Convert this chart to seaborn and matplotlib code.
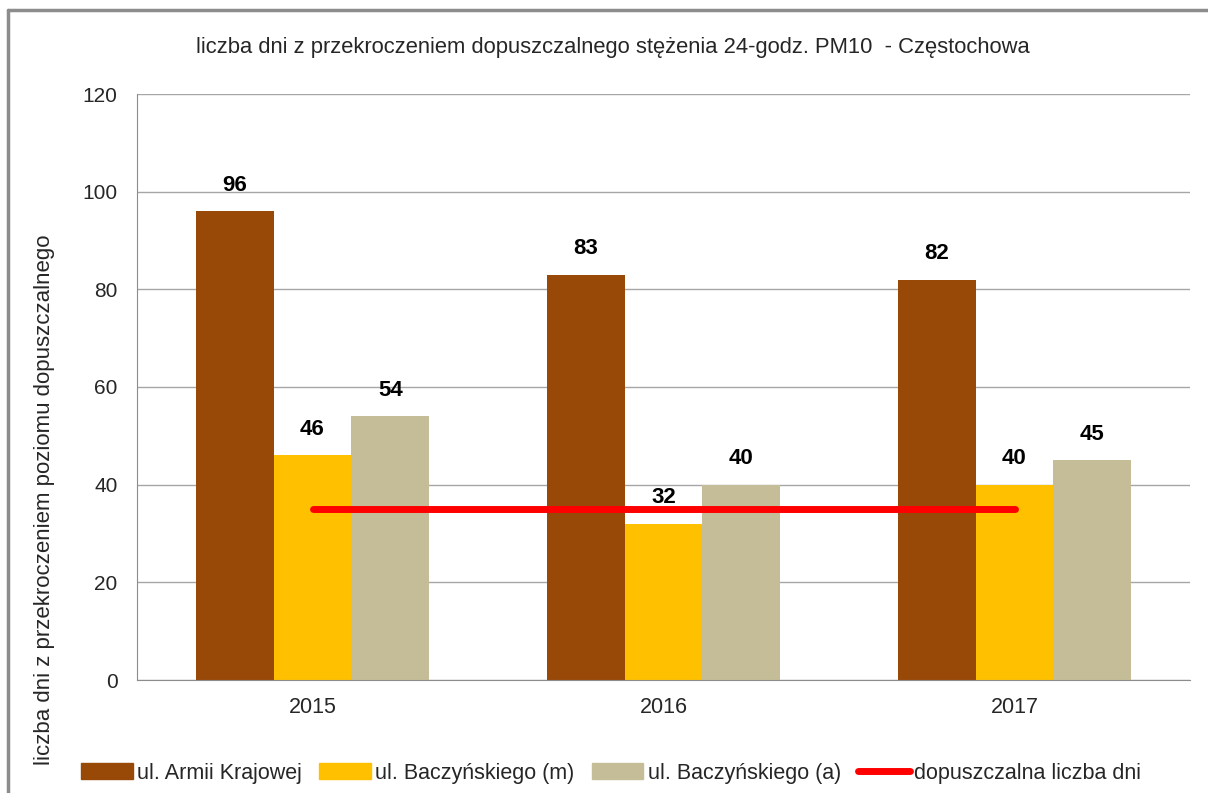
import pandas as pd
import matplotlib.pyplot as plt
import seaborn as sns
from matplotlib.lines import Line2D
from matplotlib.patches import Patch

years = ['2015', '2016', '2017']
stations = ['ul. Armii Krajowej', 'ul. Baczyńskiego (m)', 'ul. Baczyńskiego (a)']
armii_krajowej = [96, 83, 82]
baczynskiego_m = [46, 32, 40]
baczynskiego_a = [54, 40, 45]
limit_days = [35, 35, 35]
limit_label = 'dopuszczalna liczba dni'

colors = ['#984807', '#FFC000', '#C4BD97']
FONT = ['Liberation Sans', 'DejaVu Sans']

df = pd.DataFrame({
    'year': years * 3,
    'station': [s for s in stations for _ in years],
    'days': armii_krajowej + baczynskiego_m + baczynskiego_a,
})

sns.set_style('white')
plt.rcParams['font.family'] = FONT

fig = plt.figure(figsize=(12.08, 7.93), dpi=100)
ax = fig.add_axes([137 / 1208, 1 - 680 / 793, (1190 - 137) / 1208, (680 - 94) / 793])

sns.barplot(data=df, x='year', y='days', hue='station', order=years,
            hue_order=stations, palette=colors, width=0.665, saturation=1,
            edgecolor='none', linewidth=0, legend=False, ax=ax)

for cont in ax.containers:
    ax.bar_label(cont, padding=11, fontsize=16, fontweight='bold', color='black')

ax.plot(range(len(years)), limit_days, color='#FF0000', lw=5, solid_capstyle='round', zorder=5)

ax.set_xlim(-0.5, 2.5)
ax.set_ylim(0, 120)
ax.set_yticks(range(0, 121, 20))
ax.yaxis.grid(True, color='#A6A6A6', lw=1)
ax.set_axisbelow(True)
for side in ['top', 'right']:
    ax.spines[side].set_visible(False)
for side in ['left', 'bottom']:
    ax.spines[side].set_color('#8C8C8C')
ax.set_xticks([-0.5, 0.5, 1.5, 2.5], minor=True)
ax.tick_params(axis='x', which='major', length=0, pad=12, labelsize=15.5)
ax.tick_params(axis='x', which='minor', length=6, color='#8C8C8C', direction='out')
ax.tick_params(axis='y', length=6, color='#8C8C8C', direction='out', labelsize=15, pad=8)
ax.set_xlabel('')
ax.set_ylabel('')

fig.text(45 / 1208, 1 - 500 / 793, 'liczba dni z przekroczeniem poziomu dopuszczalnego',
         rotation=90, ha='center', va='center', fontsize=16)
fig.text(613 / 1208, 1 - 47 / 793,
         'liczba dni z przekroczeniem dopuszczalnego stężenia 24-godz. PM10  - Częstochowa',
         ha='center', va='center', fontsize=15.8)

handles = [Patch(color=c, label=s) for c, s in zip(colors, stations)]
handles.append(Line2D([0], [0], color='#FF0000', lw=5, solid_capstyle='round', label=limit_label))
fig.legend(handles=handles, loc='center', bbox_to_anchor=(611 / 1208, 1 - 773 / 793),
           ncol=4, frameon=False, fontsize=15.5, handlelength=2.4, handleheight=0.8,
           handletextpad=0.2, columnspacing=0.8, borderpad=0)

fig.add_artist(Line2D([8 / 1208, 8 / 1208], [0, 1 - 10 / 793], color='#8C8C8C', lw=2.5,
                      transform=fig.transFigure))
fig.add_artist(Line2D([8 / 1208, 1], [1 - 10 / 793, 1 - 10 / 793], color='#8C8C8C', lw=2.5,
                      transform=fig.transFigure))

fig.savefig('out.png', dpi=100)
